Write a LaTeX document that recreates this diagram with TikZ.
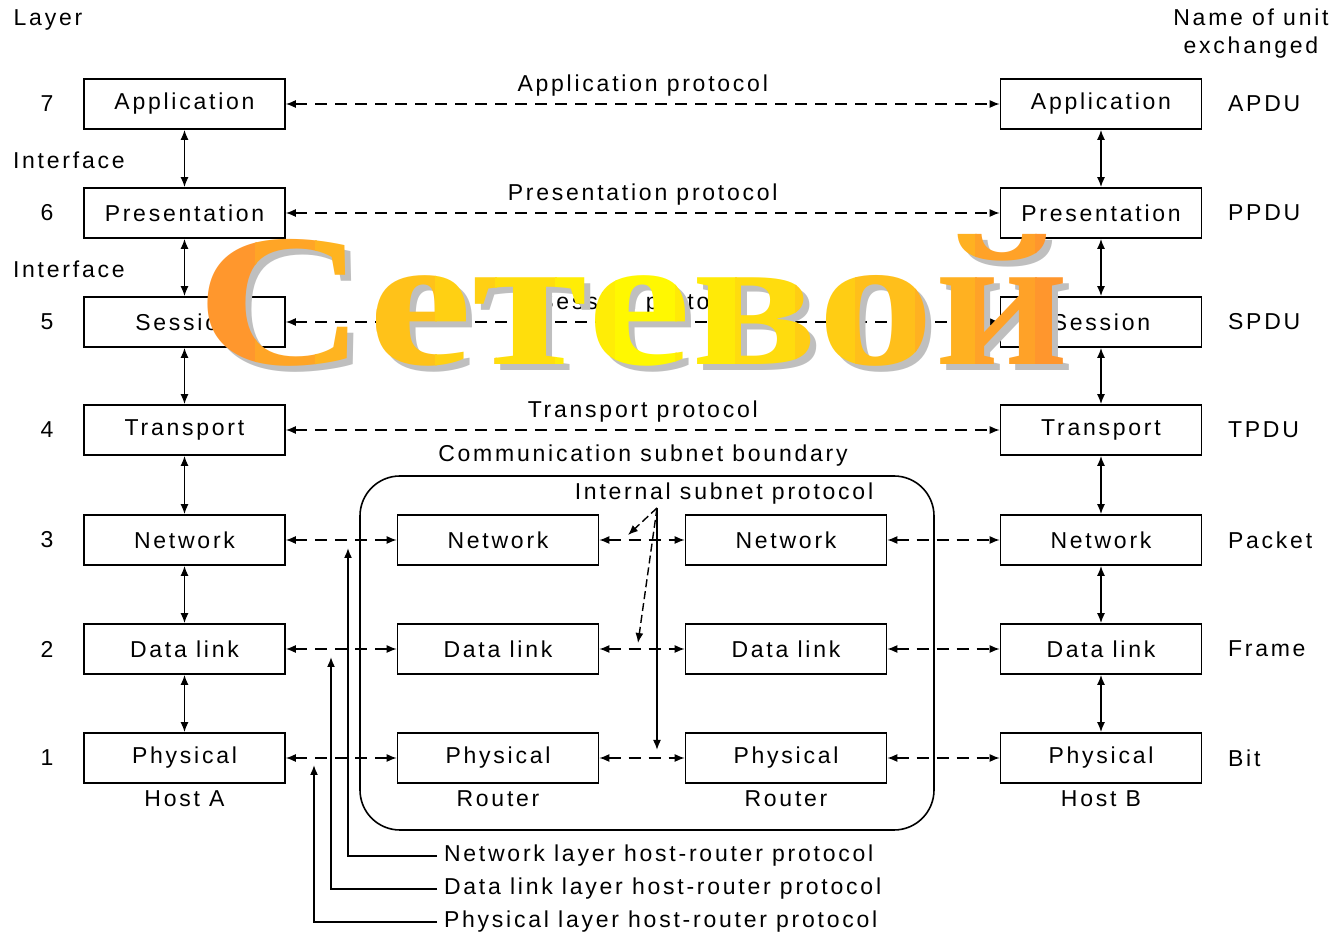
\documentclass[tikz,border=0pt]{standalone}
\usepackage{fontspec}
\newfontfamily\labelfont{Liberation Sans}[LetterSpace=12]
\newfontfamily\titlefont{Liberation Serif}
\usetikzlibrary{positioning, arrows.meta}
\definecolor{wordorange}{RGB}{255,150,45}
\definecolor{wordyellow}{RGB}{255,250,0}
\newcommand{\bigword}{\titlefont\bfseries\fontsize{94.5}{100}\selectfont}

\begin{document}
\begin{tikzpicture}[x=0.5pt, y=-0.5pt,
  every node/.style={font=\labelfont\fontsize{11.5}{14}\selectfont},
  layerbox/.style={draw, line width=0.8pt, minimum width=100.5pt, minimum height=25pt, inner sep=0pt},
  proto/.style={line width=0.7pt, dash pattern=on 6pt off 4pt, {Latex[length=5pt,width=4pt]}-{Latex[length=5pt,width=4pt]}},
  iface/.style={line width=0.8pt, {Latex[length=5pt,width=4pt]}-{Latex[length=5pt,width=4pt]}},
  intern/.style={line width=0.7pt, dash pattern=on 4pt off 2pt, -{Latex[length=5pt,width=4pt]}},
  hrline/.style={line width=0.8pt, -{Latex[length=5pt,width=4pt]}}]
  \useasboundingbox (0,0) rectangle (1341,935);

  \node (layerhead) at (48,20) {Layer};
  \node[align=center] (unithead) at (1251,34) {Name of unit\\exchanged};
  \node[anchor=west] (if7) at (6,160) {Interface};
  \node[anchor=west] (if6) at (6,269) {Interface};

  % the two hosts
  \foreach \n/\y/\txt/\unit in {7/104/Application/APDU, 6/213/Presentation/PPDU, 5/322/Session/SPDU,
      4/430/Transport/TPDU, 3/540/Network/Packet, 2/649/Data link/Frame, 1/758/Physical/Bit}{
    \node (num\n) at (47,\y) {\n};
    \node[layerbox] (a\n) at (184.5,\y) {\txt};
    \node[layerbox] (b\n) at (1101,\y) {\txt};
    \node[anchor=west] (unit\n) at (1221,\y) {\unit};
  }
  \foreach \u/\l in {7/6, 6/5, 5/4, 4/3, 3/2, 2/1}{
    \draw[iface] (a\u) -- (a\l);
    \draw[iface] (b\u) -- (b\l);
  }
  \foreach \n/\txt in {7/Application, 6/Presentation, 5/Session, 4/Transport}
    \draw[proto] (a\n) -- node[above] (pl\n) {\txt\ protocol} (b\n);

  % subnet with the routers
  \draw[line width=0.8pt, rounded corners=20pt] (360,476) rectangle (934,830);
  \node (subnet) at (643,456) {Communication subnet boundary};
  \node (internal) at (724,494) {Internal subnet protocol};
  \foreach \n/\y/\txt in {3/540/Network, 2/649/Data link, 1/758/Physical}{
    \node[layerbox] (r\n) at (498,\y) {\txt};
    \node[layerbox] (s\n) at (786,\y) {\txt};
    \draw[proto] (a\n) -- (r\n);
    \draw[proto] (r\n) -- (s\n);
    \draw[proto] (s\n) -- (b\n);
  }
  \node[below=0pt of a1] (hosta) {Host A};
  \node[below=0pt of b1] (hostb) {Host B};
  \node[below=0pt of r1] (router1) {Router};
  \node[below=0pt of s1] (router2) {Router};

  \coordinate (isp) at (657,508);
  \coordinate (ispnet) at (628,535);
  \coordinate (ispdl) at (638,643);
  \coordinate (ispphy) at (657,750);
  \draw[intern] (isp) -- (ispnet);
  \draw[intern] (isp) -- (ispdl);
  \draw[hrline] (isp) -- (ispphy);

  % host-router protocols
  \node[anchor=west] (hrnet) at (437,856) {Network layer host-router protocol};
  \node[anchor=west] (hrdl) at (437,889) {Data link layer host-router protocol};
  \node[anchor=west] (hrphy) at (437,922) {Physical layer host-router protocol};
  \coordinate (tipnet) at (348,548);
  \coordinate (tipdl) at (331,657);
  \coordinate (tipphy) at (314,765);
  \draw[hrline] (hrnet.west) -| (tipnet);
  \draw[hrline] (hrdl.west) -| (tipdl);
  \draw[hrline] (hrphy.west) -| (tipphy);

  % overlay word, shadow first, then coloured strip by strip
  \node[font=\bigword, text=black!25, inner sep=0pt] (wordshadow) at (639,306) {\scalebox{1.24}[1]{Сетевой}};
  \foreach \i in {0,...,14}{
    \pgfmathtruncatemacro{\xl}{195+60*\i}
    \pgfmathtruncatemacro{\mix}{max(0,100*(1-abs(\xl+30-639)/420))}
    \begin{scope}
      \clip (\xl,200) rectangle (\xl+61,400);
      \node[font=\bigword, text=wordyellow!\mix!wordorange, inner sep=0pt] (word\i) at (633,300) {\scalebox{1.24}[1]{Сетевой}};
    \end{scope}
  }
\end{tikzpicture}
\end{document}
